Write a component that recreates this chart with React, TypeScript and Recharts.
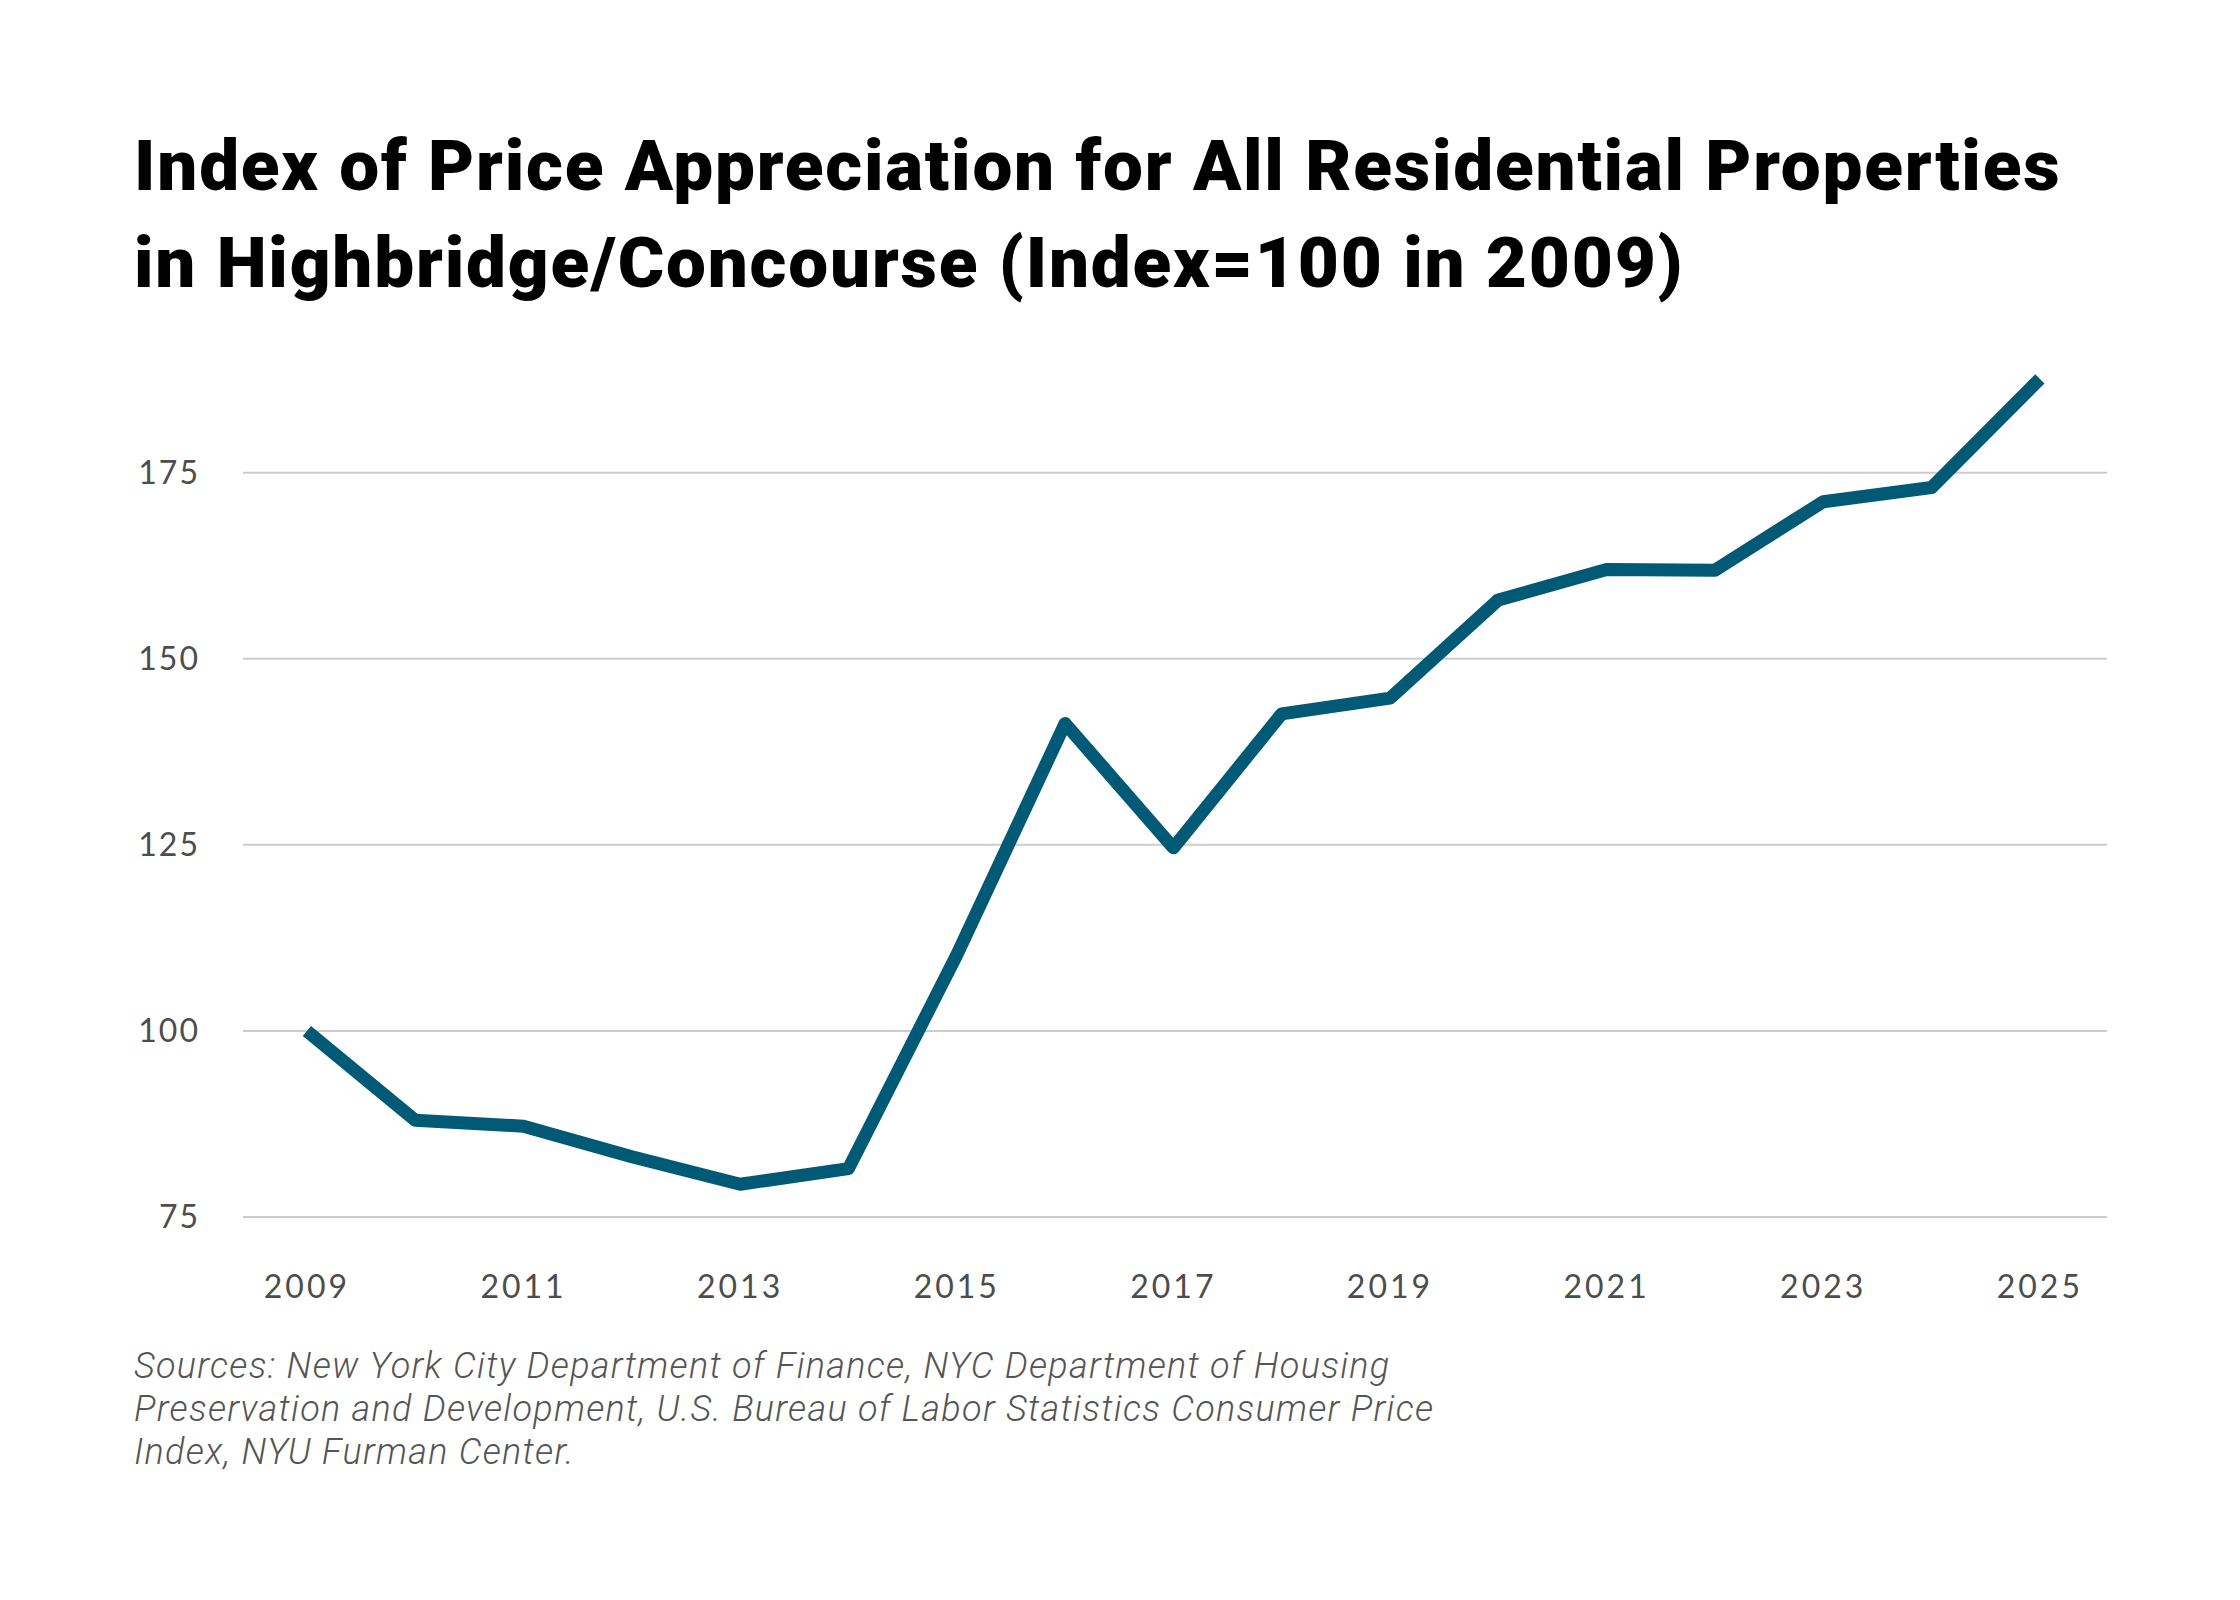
import { LineChart, Line, XAxis, YAxis, ReferenceLine } from 'recharts'

const years = [
  2009, 2010, 2011, 2012, 2013, 2014, 2015, 2016, 2017, 2018, 2019, 2020, 2021,
  2022, 2023, 2024, 2025,
]
const indexValues = [
  100, 88.0, 87.2, 83.1, 79.4, 81.5, 110.2, 141.3, 124.6, 142.6, 144.7, 157.9,
  162.0, 161.9, 171.1, 173.0, 187.6,
]
const xTicks = [2009, 2011, 2013, 2015, 2017, 2019, 2021, 2023, 2025]
const yTicks = [75, 100, 125, 150, 175]

const titleLines = [
  'Index of Price Appreciation for All Residential Properties',
  'in Highbridge/Concourse (Index=100 in 2009)',
]
const sourceLines = [
  'Sources: New York City Department of Finance, NYC Department of Housing',
  'Preservation and Development, U.S. Bureau of Labor Statistics Consumer Price',
  'Index, NYU Furman Center.',
]

const data = years.map((year, i) => ({ year, value: indexValues[i] }))

const tickStyle = { fontSize: 32, fill: '#4d4d4d', fontFamily: 'Lato', letterSpacing: 3 }

export default function App() {
  return (
    <div
      style={{
        position: 'absolute',
        left: 0,
        top: 0,
        width: 2240,
        height: 1600,
        background: '#fff',
        overflow: 'hidden',
      }}
    >
      <div
        style={{
          position: 'absolute',
          left: 134,
          top: 117,
          fontFamily: 'Roboto',
          fontWeight: 900,
          fontSize: 71,
          letterSpacing: 1.8,
          lineHeight: '97px',
          color: '#000',
          whiteSpace: 'nowrap',
        }}
      >
        {titleLines.map((t) => (
          <div key={t}>{t}</div>
        ))}
      </div>

      <div style={{ position: 'absolute', left: 0, top: 0 }}>
        <LineChart
          width={2240}
          height={1330}
          data={data}
          margin={{ top: 361, right: 133, left: 0, bottom: 53 }}
        >
          {/* horizontal grid rows at the labelled ticks only */}
          {yTicks.map((v) => (
            <ReferenceLine key={v} y={v} stroke="#cccccc" strokeWidth={2} />
          ))}
          <XAxis
            dataKey="year"
            type="number"
            domain={[2008.41, 2025.62]}
            ticks={xTicks}
            axisLine={false}
            tickLine={false}
            tickSize={0}
            tickMargin={58}
            height={60}
            tick={tickStyle}
            interval={0}
          />
          <YAxis
            domain={[75, 190]}
            ticks={yTicks}
            axisLine={false}
            tickLine={false}
            tickSize={0}
            tickMargin={43}
            width={243}
            tick={{ ...tickStyle, letterSpacing: 2 }}
          />
          <Line
            dataKey="value"
            stroke="#005a75"
            strokeWidth={13}
            strokeLinejoin="round"
            strokeLinecap="butt"
            dot={false}
            activeDot={false}
            isAnimationActive={false}
          />
        </LineChart>
      </div>

      <div
        style={{
          position: 'absolute',
          left: 134,
          top: 1345,
          fontFamily: 'Roboto',
          fontStyle: 'italic',
          fontWeight: 300,
          fontSize: 36,
          letterSpacing: 1.3,
          lineHeight: '43px',
          color: '#555',
          whiteSpace: 'nowrap',
        }}
      >
        {sourceLines.map((t) => (
          <div key={t}>{t}</div>
        ))}
      </div>
    </div>
  )
}
